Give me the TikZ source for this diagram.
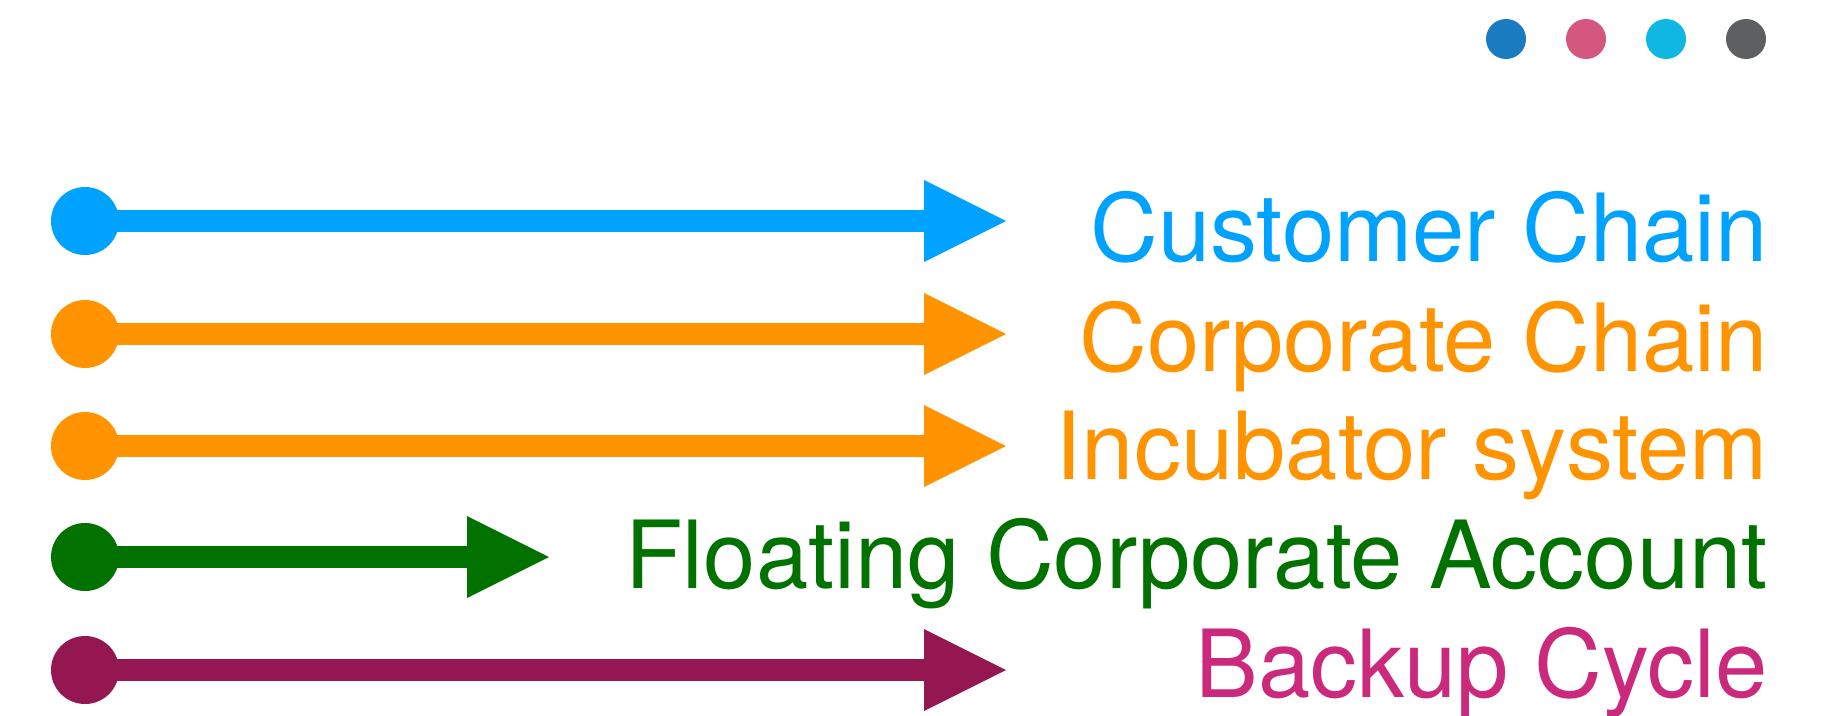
\documentclass[tikz,border=0pt]{standalone}
\usepackage{fontspec}
\setmainfont{TeX Gyre Heros}
\definecolor{cblue}{HTML}{00A2FF}
\definecolor{corange}{HTML}{FF9300}
\definecolor{cgreen}{HTML}{017100}
\definecolor{cpurple}{HTML}{941751}
\definecolor{cpink}{HTML}{CB297B}
\definecolor{dotA}{HTML}{1A7BC0}
\definecolor{dotB}{HTML}{D4577E}
\definecolor{dotC}{HTML}{10B7E2}
\definecolor{dotD}{HTML}{5E5F61}
\tikzset{
  startdot/.style={circle, inner sep=0pt, minimum size=68pt, fill=#1},
  shaft/.style={line width=22pt, draw=#1},
  lbl/.style={anchor=base east, inner sep=0pt, text=#1, font=\fontsize{94}{112}\selectfont},
  legenddot/.style={circle, inner sep=0pt, minimum size=40pt, fill=#1},
}
\begin{document}
\begin{tikzpicture}[x=1pt,y=-1pt]
\useasboundingbox (0,0) rectangle (1839,715);
% legend dots
\node[legenddot=dotA] (d1) at (1506,39) {};
\node[legenddot=dotB] (d2) at (1586,39) {};
\node[legenddot=dotC] (d3) at (1666,39) {};
\node[legenddot=dotD] (d4) at (1746,39) {};
% rows
\foreach \n/\y/\e/\col/\tcol/\txt/\ty in {
  1/221/924/cblue/cblue/Customer Chain/261,
  2/334/924/corange/corange/Corporate Chain/371,
  3/446/924/corange/corange/Incubator system/479,
  4/557/467/cgreen/cgreen/Floating Corporate Account/588,
  5/670/924/cpurple/cpink/Backup Cycle/697}{
  \node[startdot=\col] (s\n) at (85,\y) {};
  \coordinate (e\n) at (\e,\y);
  \draw[shaft=\col] (s\n.center) -- (e\n);
  \fill[\col] (e\n) ++(0,-41) -- ++(82,41) -- ++(-82,41) -- cycle;
  \node[lbl=\tcol] (t\n) at (1768,\ty) {\txt};
}
\end{tikzpicture}
\end{document}
